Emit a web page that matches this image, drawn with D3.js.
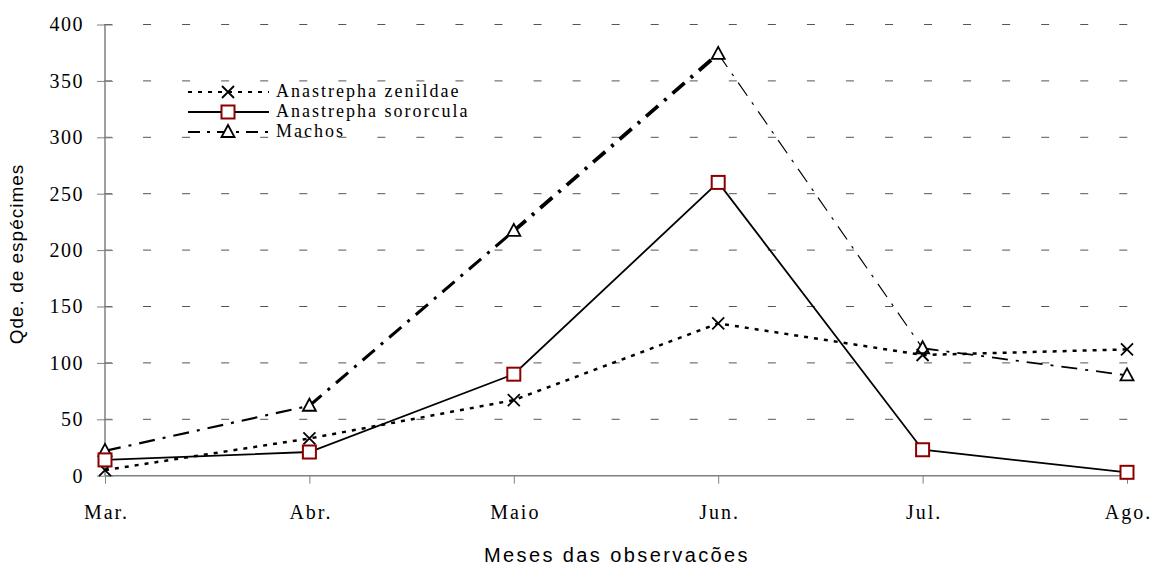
<!DOCTYPE html>
<html>
<head>
<meta charset="utf-8">
<script src="https://cdn.jsdelivr.net/npm/d3@7"></script>
<style>
  body { margin: 0; background: #fff; }
  svg { display: block; }
</style>
</head>
<body>
<div class="graph-container"></div>
<script>
// DATA
const months = ["Mar.", "Abr.", "Maio", "Jun.", "Jul.", "Ago."];
const zenildae = [5, 33, 67, 135, 107, 112];
const sororcula = [14, 21, 90, 260, 23, 3];
const machos = [22, 62, 217, 374, 113, 89];
const yTicks = [0, 50, 100, 150, 200, 250, 300, 350, 400];

// GRAPH CONSTANTS
const w = 1152;
const h = 565;
const x0 = 105, x1 = 1127;
const yTop = 24.5, yBottom = 475.7;
const axisGray = "#808080";
const serif = "Liberation Serif, 'Times New Roman', serif";
const sans = "Liberation Sans, Arial, sans-serif";

const svg = d3.select("div.graph-container")
    .append("svg")
    .attr("width", w)
    .attr("height", h);

// SCALES
const xScale = d3.scalePoint().domain(months).range([x0, x1]);
const yScale = d3.scaleLinear().domain([0, 400]).range([yBottom, yTop]);

// GRID
svg.append("g")
    .selectAll("line")
    .data(yTicks.filter(d => d > 0))
    .enter()
    .append("line")
    .attr("x1", x0 - 1)
    .attr("x2", x1 + 3)
    .attr("y1", d => yScale(d))
    .attr("y2", d => yScale(d))
    .attr("stroke", "#555")
    .attr("stroke-width", 1)
    .attr("stroke-dasharray", "8,31.05");

// AXES
const yAxis = d3.axisLeft(yScale).tickValues(yTicks).tickSize(8).tickPadding(13);
const gy = svg.append("g").attr("transform", `translate(${x0},0)`).call(yAxis);
gy.select(".domain").attr("stroke", axisGray).attr("stroke-width", 1.5).attr("d", `M0,${yTop}V${yBottom}`);
gy.selectAll(".tick line").attr("stroke", axisGray).attr("x1", 8).attr("x2", -8);
gy.selectAll(".tick text")
    .attr("font-family", serif)
    .attr("font-size", 20)
    .attr("letter-spacing", 1.5)
    .attr("fill", "#000");

const xAxis = d3.axisBottom(xScale).tickSize(8).tickPadding(21);
const gx = svg.append("g").attr("transform", `translate(0,${yBottom})`).call(xAxis);
gx.select(".domain").attr("stroke", axisGray).attr("stroke-width", 1.5).attr("d", `M${x0},0H${x1}`);
gx.selectAll(".tick line").attr("stroke", axisGray);
gx.selectAll(".tick text")
    .attr("font-family", serif)
    .attr("font-size", 20)
    .attr("letter-spacing", 2)
    .attr("dx", 1)
    .attr("fill", "#000");

// AXIS TITLES
svg.append("text")
    .attr("transform", `translate(23, ${254}) rotate(-90)`)
    .attr("text-anchor", "middle")
    .attr("font-family", sans)
    .attr("font-size", 19)
    .attr("letter-spacing", 1)
    .text("Qde. de espécimes");
svg.append("text")
    .attr("x", 617)
    .attr("y", 562)
    .attr("text-anchor", "middle")
    .attr("font-family", sans)
    .attr("font-size", 20)
    .attr("letter-spacing", 2.4)
    .text("Meses das observacões");

// LINES
const pts = vals => vals.map((v, i) => [xScale(months[i]), yScale(v)]);

// Machos: dash-dot, drawn per segment with varying weight
const machosWidths = [2.2, 3, 3.8, 1.2, 1.8];
svg.append("g")
    .selectAll("line")
    .data(d3.pairs(pts(machos)))
    .enter()
    .append("line")
    .attr("x1", d => d[0][0]).attr("y1", d => d[0][1])
    .attr("x2", d => d[1][0]).attr("y2", d => d[1][1])
    .attr("stroke", "#000")
    .attr("stroke-width", (d, i) => machosWidths[i])
    .attr("stroke-dasharray", "16,8,3,8");

svg.append("path")
    .attr("d", d3.line()(pts(zenildae)))
    .attr("fill", "none")
    .attr("stroke", "#000")
    .attr("stroke-width", 2.5)
    .attr("stroke-dasharray", "4,6");

svg.append("path")
    .attr("d", d3.line()(pts(sororcula)))
    .attr("fill", "none")
    .attr("stroke", "#000")
    .attr("stroke-width", 1.8);

// MARKERS
const drawX = (g, x, y) => {
    g.append("path")
        .attr("d", `M${x - 6},${y - 6}L${x + 6},${y + 6}M${x - 6},${y + 6}L${x + 6},${y - 6}`)
        .attr("stroke", "#000").attr("stroke-width", 1.8).attr("fill", "none");
};
const drawSquare = (g, x, y) => {
    g.append("rect")
        .attr("x", x - 6.5).attr("y", y - 6.5).attr("width", 13).attr("height", 13)
        .attr("fill", "#fff").attr("stroke", "#8b0000").attr("stroke-width", 2);
};
const drawTri = (g, x, y) => {
    g.append("path")
        .attr("d", `M${x},${y - 7}L${x + 6.5},${y + 5}L${x - 6.5},${y + 5}Z`)
        .attr("fill", "#fff").attr("stroke", "#000").attr("stroke-width", 1.8);
};
const marks = svg.append("g");
pts(machos).forEach(p => drawTri(marks, p[0], p[1]));
pts(zenildae).forEach(p => drawX(marks, p[0], p[1]));
pts(sororcula).forEach(p => drawSquare(marks, p[0], p[1]));

// LEGEND
const legendItems = [
    { name: "Anastrepha zenildae", dash: "4,6", width: 2.2, mark: drawX },
    { name: "Anastrepha sororcula", dash: null, width: 1.8, mark: drawSquare },
    { name: "Machos", dash: "12,7,3,7", width: 2.2, mark: drawTri }
];
const legend = svg.append("g");
legendItems.forEach((d, i) => {
    const y = 92 + i * 20;
    legend.append("line")
        .attr("x1", 188).attr("x2", 269).attr("y1", y).attr("y2", y)
        .attr("stroke", "#000").attr("stroke-width", d.width)
        .attr("stroke-dasharray", d.dash);
    d.mark(legend, 228, y);
    legend.append("text")
        .attr("x", 276).attr("y", y + 5)
        .attr("font-family", serif)
        .attr("font-size", 18)
        .attr("letter-spacing", 2)
        .text(d.name);
});
</script>
</body>
</html>
